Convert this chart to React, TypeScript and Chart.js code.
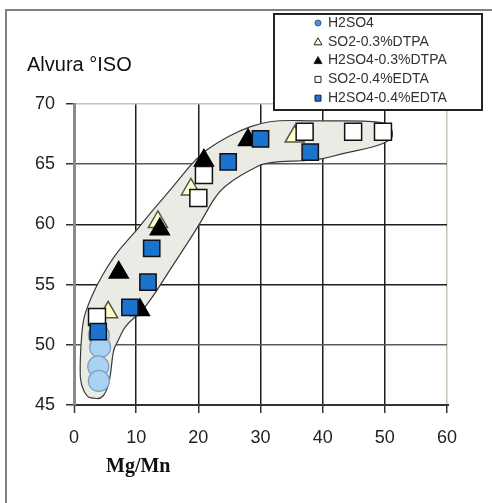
import React, { useEffect, useRef } from 'react';
import { Chart, registerables } from 'chart.js';

Chart.register(...registerables);

// ---- data ----
const seriesNames = ['H2SO4', 'SO2-0.3%DTPA', 'H2SO4-0.3%DTPA', 'SO2-0.4%EDTA', 'H2SO4-0.4%EDTA'];

const h2so4X = [4.0, 4.2, 3.9, 4.0];
const h2so4Y = [50.8, 49.8, 48.2, 47.0];

const so2DtpaX = [5.5, 13.5, 18.8, 35.5];
const so2DtpaY = [52.7, 60.2, 62.9, 67.3];

const h2so4DtpaX = [7.2, 10.6, 13.8, 20.9, 28.0];
const h2so4DtpaY = [56.0, 52.9, 59.6, 65.3, 67.0];

const so2EdtaX = [3.7, 20.0, 20.9, 37.1, 44.9, 49.7];
const so2EdtaY = [52.3, 62.2, 64.1, 67.7, 67.7, 67.7];

const h2so4EdtaX = [3.9, 9.0, 11.9, 12.5, 24.8, 30.0, 38.0];
const h2so4EdtaY = [51.1, 53.1, 55.2, 58.0, 65.2, 67.1, 66.0];

// hand-drawn envelope around the points (outline, clockwise from the bottom)
const bandX = [3.05, 2.1, 1.1, 0.96, 1.1, 1.45, 2.25, 3.7, 5.5, 7.4, 10.1, 12.2, 15.4, 19.8, 23.0, 26.7, 29.9, 33.1, 39.1, 48.1, 50.8, 51.3, 51.1, 48.1, 43.2, 39.1, 31.0, 28.3, 25.6, 23.0, 20.3, 18.2, 15.4, 12.7, 10.6, 8.2, 6.9, 6.3, 5.8, 5.1, 4.2];
const bandY = [45.58, 45.66, 46.66, 47.9, 50.0, 52.05, 53.3, 55.0, 56.6, 58.0, 59.5, 60.9, 62.8, 65.6, 66.8, 67.8, 68.4, 68.65, 68.6, 68.6, 68.3, 67.65, 67.0, 66.4, 65.9, 65.3, 65.2, 64.5, 63.7, 62.6, 60.1, 58.4, 56.2, 54.0, 52.6, 51.6, 50.1, 49.6, 47.1, 46.0, 45.5];

const xTicks = [0, 10, 20, 30, 40, 50, 60];
const yTicks = [45, 50, 55, 60, 65, 70];

const yTitle = 'Alvura °ISO';
const xTitle = 'Mg/Mn';

const zip = (xs: number[], ys: number[]) => xs.map((x, i) => ({ x, y: ys[i] }));

type Marker = { style: string; fill: string; stroke: string };
const markers: Marker[] = [
  { style: 'circle', fill: '#a9d2f3', stroke: '#7f9fbf' },
  { style: 'triangle', fill: '#ffffcc', stroke: '#555544' },
  { style: 'triangle', fill: '#000000', stroke: '#000000' },
  { style: 'rect', fill: '#ffffff', stroke: '#111111' },
  { style: 'rect', fill: '#1a73cc', stroke: '#111111' },
];

const FONT = "'Liberation Sans', Arial, sans-serif";

const bandPlugin = {
  id: 'band',
  beforeDatasetsDraw(chart: any) {
    const { ctx, scales } = chart;
    const xs = scales.x, ys = scales.y;
    const pts = bandX.map((x, i) => [xs.getPixelForValue(x), ys.getPixelForValue(bandY[i])]);
    const n = pts.length;
    ctx.save();
    ctx.beginPath();
    const mid = (a: number[], b: number[]) => [(a[0] + b[0]) / 2, (a[1] + b[1]) / 2];
    const m0 = mid(pts[n - 1], pts[0]);
    ctx.moveTo(m0[0], m0[1]);
    for (let i = 0; i < n; i++) {
      const p = pts[i];
      const m = mid(p, pts[(i + 1) % n]);
      ctx.quadraticCurveTo(p[0], p[1], m[0], m[1]);
    }
    ctx.closePath();
    ctx.fillStyle = '#ebebe6';
    ctx.fill();
    ctx.lineWidth = 1.2;
    ctx.strokeStyle = '#3a3a3a';
    ctx.stroke();
    ctx.restore();
  },
};

function drawSmallMarker(ctx: CanvasRenderingContext2D, m: Marker, x: number, y: number) {
  ctx.beginPath();
  if (m.style === 'circle') {
    ctx.arc(x, y, 3, 0, Math.PI * 2);
  } else if (m.style === 'triangle') {
    ctx.moveTo(x, y - 4);
    ctx.lineTo(x + 4, y + 3);
    ctx.lineTo(x - 4, y + 3);
    ctx.closePath();
  } else {
    ctx.rect(x - 3, y - 3, 6, 6);
  }
  ctx.fillStyle = m.style === 'circle' ? '#4f93d0' : m.fill;
  ctx.fill();
  ctx.lineWidth = 1;
  ctx.strokeStyle = m.style === 'circle' ? '#2d5d8a' : '#222222';
  ctx.stroke();
}

const decorPlugin = {
  id: 'decor',
  afterDraw(chart: any) {
    const { ctx } = chart;
    ctx.save();
    // outer frame
    ctx.strokeStyle = '#808080';
    ctx.lineWidth = 2;
    ctx.beginPath();
    ctx.moveTo(6, 520);
    ctx.lineTo(6, 10);
    ctx.lineTo(500, 10);
    ctx.stroke();

    // axis titles
    ctx.fillStyle = '#111111';
    ctx.textBaseline = 'alphabetic';
    ctx.textAlign = 'left';
    ctx.font = `20px ${FONT}`;
    ctx.fillText(yTitle, 27, 71);
    ctx.font = "bold 20px 'Liberation Serif', 'Times New Roman', serif";
    ctx.fillText(xTitle, 106, 472);

    // legend
    const lx = 274, ly = 14, lw = 208, lh = 96;
    ctx.fillStyle = '#ffffff';
    ctx.fillRect(lx, ly, lw, lh);
    ctx.strokeStyle = '#222222';
    ctx.lineWidth = 2;
    ctx.strokeRect(lx, ly, lw, lh);
    ctx.font = `14px ${FONT}`;
    ctx.textBaseline = 'middle';
    seriesNames.forEach((name, i) => {
      const y = ly + 9 + i * 18.8;
      drawSmallMarker(ctx, markers[i], 318, y);
      ctx.fillStyle = '#333333';
      ctx.fillText(name, 328, y);
    });
    ctx.restore();
  },
};

const seriesX = [h2so4X, so2DtpaX, h2so4DtpaX, so2EdtaX, h2so4EdtaX];
const seriesY = [h2so4Y, so2DtpaY, h2so4DtpaY, so2EdtaY, h2so4EdtaY];
const radii = [10.5, 11, 11, 12, 11.5];
const drawOrder = [4, 3, 2, 1, 0];

export default function App() {
  const ref = useRef<HTMLCanvasElement>(null);
  useEffect(() => {
    if (!ref.current) return;
    const datasets = seriesNames.map((name, i) => ({
      label: name,
      data: zip(seriesX[i], seriesY[i]),
      pointStyle: markers[i].style,
      pointRadius: radii[i],
      pointHoverRadius: radii[i],
      backgroundColor: markers[i].fill,
      borderColor: markers[i].stroke,
      borderWidth: i === 0 ? 1.2 : 1.5,
      order: drawOrder[i],
    }));
    const chart = new Chart(ref.current, {
      type: 'scatter',
      data: { datasets },
      options: {
        animation: false,
        responsive: false,
        maintainAspectRatio: false,
        layout: { padding: { left: 0, top: 104, right: 45, bottom: 0 } },
        plugins: { legend: { display: false }, tooltip: { enabled: false } },
        scales: {
          x: {
            type: 'linear',
            min: 0,
            max: 60,
            afterBuildTicks: (s: any) => { s.ticks = xTicks.map((v) => ({ value: v })); },
            afterFit: (s: any) => { s.height = 98; },
            grid: {
              color: (c: any) => (c.tick && c.tick.value === 60 ? '#c4c4b4' : c.tick && c.tick.value === 0 ? '#8a8a8a' : '#1e1e1e'),
              lineWidth: (c: any) => (c.tick && c.tick.value === 0 ? 3 : 1.5),
              tickColor: '#333333',
              tickWidth: 1.5,
              tickLength: 8,
            },
            border: { color: '#333333', width: 2 },
            ticks: { font: { family: FONT, size: 18 }, color: '#222222', padding: 14, maxRotation: 0 },
          },
          y: {
            type: 'linear',
            min: 45,
            max: 70,
            afterBuildTicks: (s: any) => { s.ticks = yTicks.map((v) => ({ value: v })); },
            afterFit: (s: any) => { s.width = 74; },
            grid: {
              color: (c: any) => (c.tick && c.tick.value === 70 ? '#c4c4b4' : c.tick && (c.tick.value === 65 || c.tick.value === 50) ? '#5a5a5a' : '#1e1e1e'),
              lineWidth: 1.5,
              tickColor: '#333333',
              tickWidth: 1.5,
              tickLength: 8,
            },
            border: { color: '#8a8a8a', width: 3 },
            ticks: { font: { family: FONT, size: 18 }, color: '#222222', padding: 11 },
          },
        },
      },
      plugins: [bandPlugin, decorPlugin],
    } as any);
    return () => chart.destroy();
  }, []);
  return (
    <div style={{ position: 'fixed', left: 0, top: 0, width: 492, height: 503, background: '#fff' }}>
      <canvas ref={ref} width={492} height={503} style={{ width: 492, height: 503, display: 'block' }} />
    </div>
  );
}
